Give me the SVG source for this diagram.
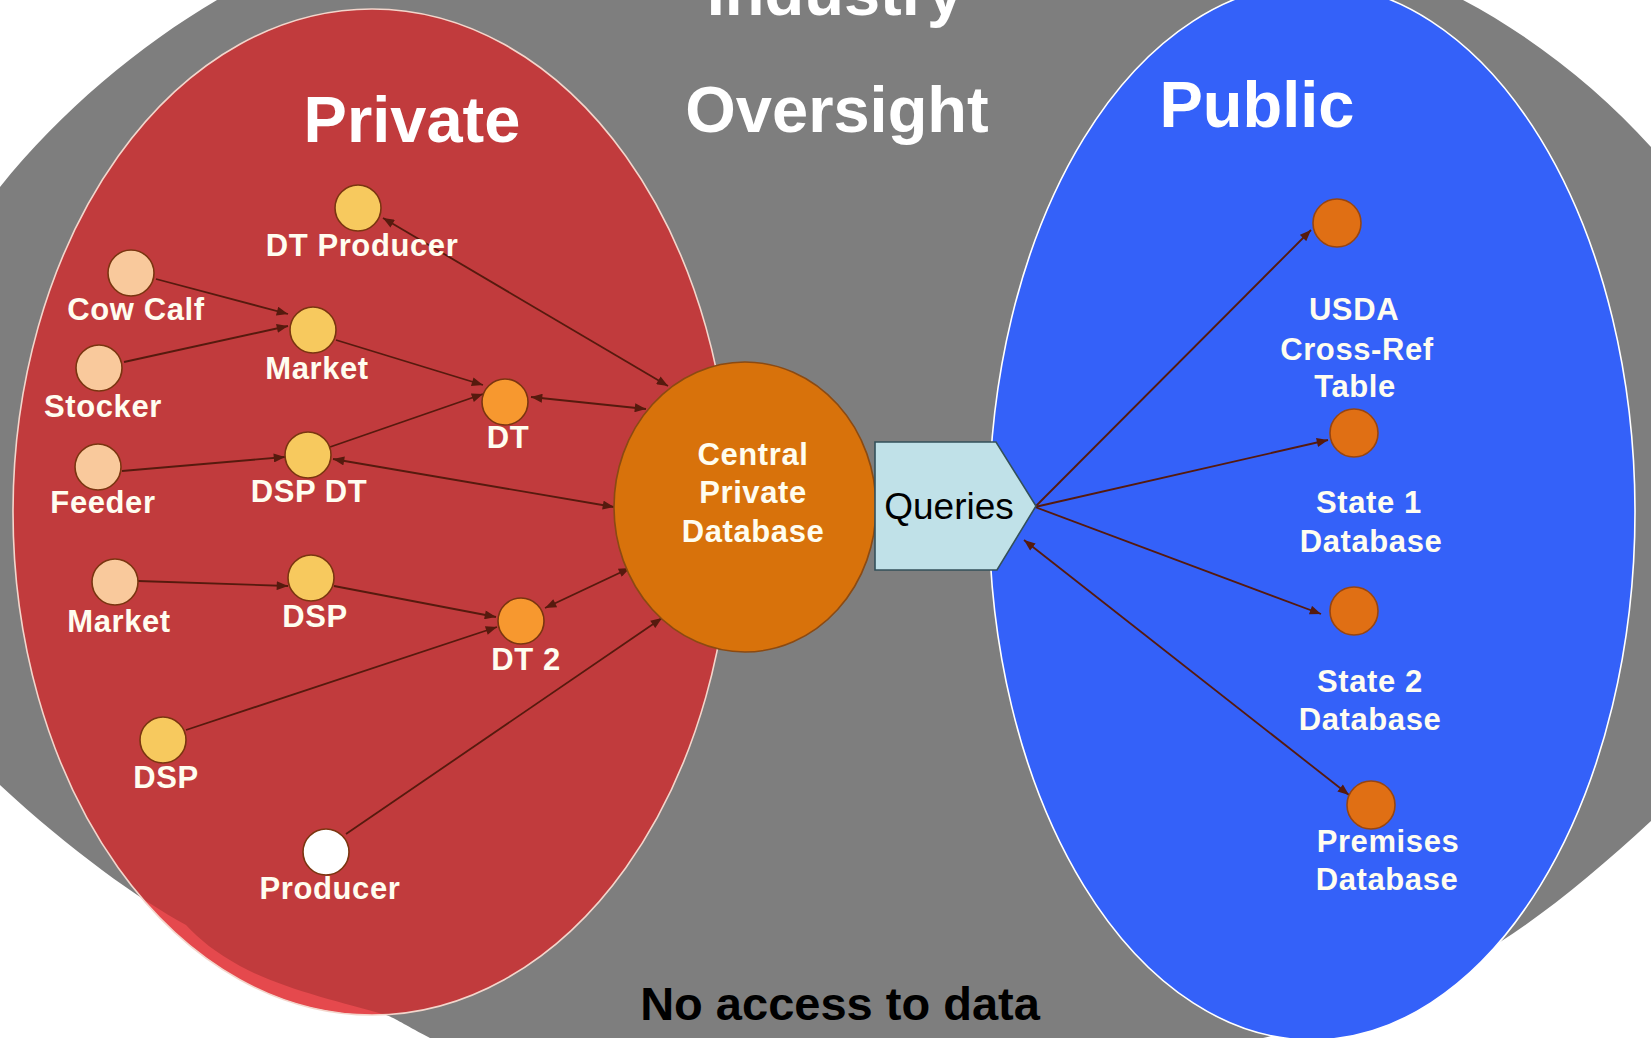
<svg xmlns="http://www.w3.org/2000/svg" width="1651" height="1038" viewBox="0 0 1651 1038">
<style>
.t{font-family:"Liberation Sans",Arial,sans-serif;font-weight:bold;fill:#fffdf0;text-anchor:middle}
.lbl{font-size:31px;letter-spacing:0.6px}
.big{font-size:65px;fill:#ffffff}
.edge{stroke:#561a0e;stroke-width:1.8;fill:none;marker-end:url(#ah)}
.bi{marker-start:url(#ah)}
.nd{stroke:#7a3510;stroke-width:1.6}
.peach{fill:#f9c99c}
.gold{fill:#f7c95e}
.orng{fill:#f7982f}
.wht{fill:#ffffff}
.pub{fill:#e06f14;stroke:#984510;stroke-width:1.6}
</style>
<defs>
<marker id="ah" viewBox="0 0 10 8" refX="10" refY="4" markerWidth="12" markerHeight="9" markerUnits="userSpaceOnUse" orient="auto-start-reverse">
<path d="M0,0 L10,4 L0,8 z" fill="#561a0e"/>
</marker>
<path id="greyshape" d="M217,0 L1463,0 C1530,35 1600,90 1651,147 L1651,821 C1600,868 1550,910 1500,942 C1420,990 1340,1018 1263,1038 L430,1038 C405,1025 395,1018 386,1015 C340,1002 280,988 240,966 C215,952 200,940 186,925 C140,900 70,850 0,785 L0,187 C60,112 140,45 217,0 Z"/>
<clipPath id="greyclip"><use href="#greyshape"/></clipPath>
</defs>
<rect width="1651" height="1038" fill="#ffffff"/>
<g id="regions">
<use href="#greyshape" fill="#7e7e7e"/>
<ellipse cx="372" cy="512" rx="359" ry="503" fill="#e5494d"/>
<ellipse cx="372" cy="512" rx="359" ry="503" fill="#c13b3d" clip-path="url(#greyclip)"/>
<ellipse cx="372" cy="512" rx="359" ry="503" fill="none" stroke="#f3d6cc" stroke-width="1.6"/>
<ellipse cx="1312" cy="512" rx="323" ry="528" fill="#3461f9" stroke="#ffffff" stroke-width="1.6"/>
<text class="t big" x="835" y="15">Industry</text>
<text class="t big" x="837" y="132">Oversight</text>
<text class="t big" x="412" y="142">Private</text>
<text class="t big" x="1257" y="127">Public</text>
<text x="840" y="1020" font-family="Liberation Sans, Arial, sans-serif" font-weight="bold" font-size="47" fill="#000000" text-anchor="middle">No access to data</text>
</g>
<g id="connectors">
<path class="edge" d="M156,279 L288,314"/>
<path class="edge" d="M124,362 L288,326"/>
<path class="edge" d="M336,340 L483,385"/>
<path class="edge" d="M330,447 L483,394"/>
<path class="edge" d="M122,471 L285,457"/>
<path class="edge bi" d="M531,397 L646,409"/>
<path class="edge bi" d="M383,218 L668,386"/>
<path class="edge bi" d="M333,459 L614,507"/>
<path class="edge" d="M138,581 L288,586"/>
<path class="edge" d="M334,586 L496,617"/>
<path class="edge" d="M186,730 L497,627"/>
<path class="edge bi" d="M545,608 L630,568"/>
<path class="edge" d="M346,834 L662,618"/>
<path class="edge" d="M1035,507 L1311,230"/>
<path class="edge" d="M1035,507 L1328,440"/>
<path class="edge" d="M1035,507 L1321,614"/>
<path class="edge bi" d="M1024,540 L1349,795"/>
</g>
<g id="n-dtproducer"><circle class="nd gold" cx="358" cy="208" r="23"/><text class="t lbl" x="362" y="256">DT Producer</text></g>
<g id="n-cowcalf"><circle class="nd peach" cx="131" cy="273" r="23"/><text class="t lbl" x="136" y="320">Cow Calf</text></g>
<g id="n-stocker"><circle class="nd peach" cx="99" cy="368" r="23"/><text class="t lbl" x="103" y="417">Stocker</text></g>
<g id="n-market1"><circle class="nd gold" cx="313" cy="330" r="23"/><text class="t lbl" x="317" y="379">Market</text></g>
<g id="n-dt"><circle class="nd orng" cx="505" cy="402" r="23"/><text class="t lbl" x="508" y="448">DT</text></g>
<g id="n-dspdt"><circle class="nd gold" cx="308" cy="455" r="23"/><text class="t lbl" x="309" y="502">DSP DT</text></g>
<g id="n-feeder"><circle class="nd peach" cx="98" cy="467" r="23"/><text class="t lbl" x="103" y="513">Feeder</text></g>
<g id="n-market2"><circle class="nd peach" cx="115" cy="582" r="23"/><text class="t lbl" x="119" y="632">Market</text></g>
<g id="n-dsp1"><circle class="nd gold" cx="311" cy="578" r="23"/><text class="t lbl" x="315" y="627">DSP</text></g>
<g id="n-dt2"><circle class="nd orng" cx="521" cy="621" r="23"/><text class="t lbl" x="526" y="670">DT 2</text></g>
<g id="n-dsp2"><circle class="nd gold" cx="163" cy="740" r="23"/><text class="t lbl" x="166" y="788">DSP</text></g>
<g id="n-producer"><circle class="nd wht" cx="326" cy="852" r="23"/><text class="t lbl" x="330" y="899">Producer</text></g>
<g id="n-central"><ellipse cx="745" cy="507" rx="131" ry="145" fill="#d8720b" stroke="#8b4a12" stroke-width="1.6"/>
<text class="t lbl" x="753" y="465">Central</text><text class="t lbl" x="753" y="503">Private</text><text class="t lbl" x="753" y="542">Database</text></g>
<g id="n-queries"><path d="M875,442 L996,442 L1036,506 L997,570 L875,570 z" fill="#c0e1e8" stroke="#33505a" stroke-width="1.6"/>
<text x="949" y="519" font-family="Liberation Sans, Arial, sans-serif" font-size="37" fill="#000000" text-anchor="middle">Queries</text></g>
<g id="n-usda"><circle class="pub" cx="1337" cy="223" r="24"/><text class="t lbl" x="1354" y="320">USDA</text><text class="t lbl" x="1357" y="360">Cross-Ref</text><text class="t lbl" x="1355" y="397">Table</text></g>
<g id="n-state1"><circle class="pub" cx="1354" cy="433" r="24"/><text class="t lbl" x="1369" y="513">State 1</text><text class="t lbl" x="1371" y="552">Database</text></g>
<g id="n-state2"><circle class="pub" cx="1354" cy="611" r="24"/><text class="t lbl" x="1370" y="692">State 2</text><text class="t lbl" x="1370" y="730">Database</text></g>
<g id="n-premises"><circle class="pub" cx="1371" cy="805" r="24"/><text class="t lbl" x="1388" y="852">Premises</text><text class="t lbl" x="1387" y="890">Database</text></g>
</svg>
